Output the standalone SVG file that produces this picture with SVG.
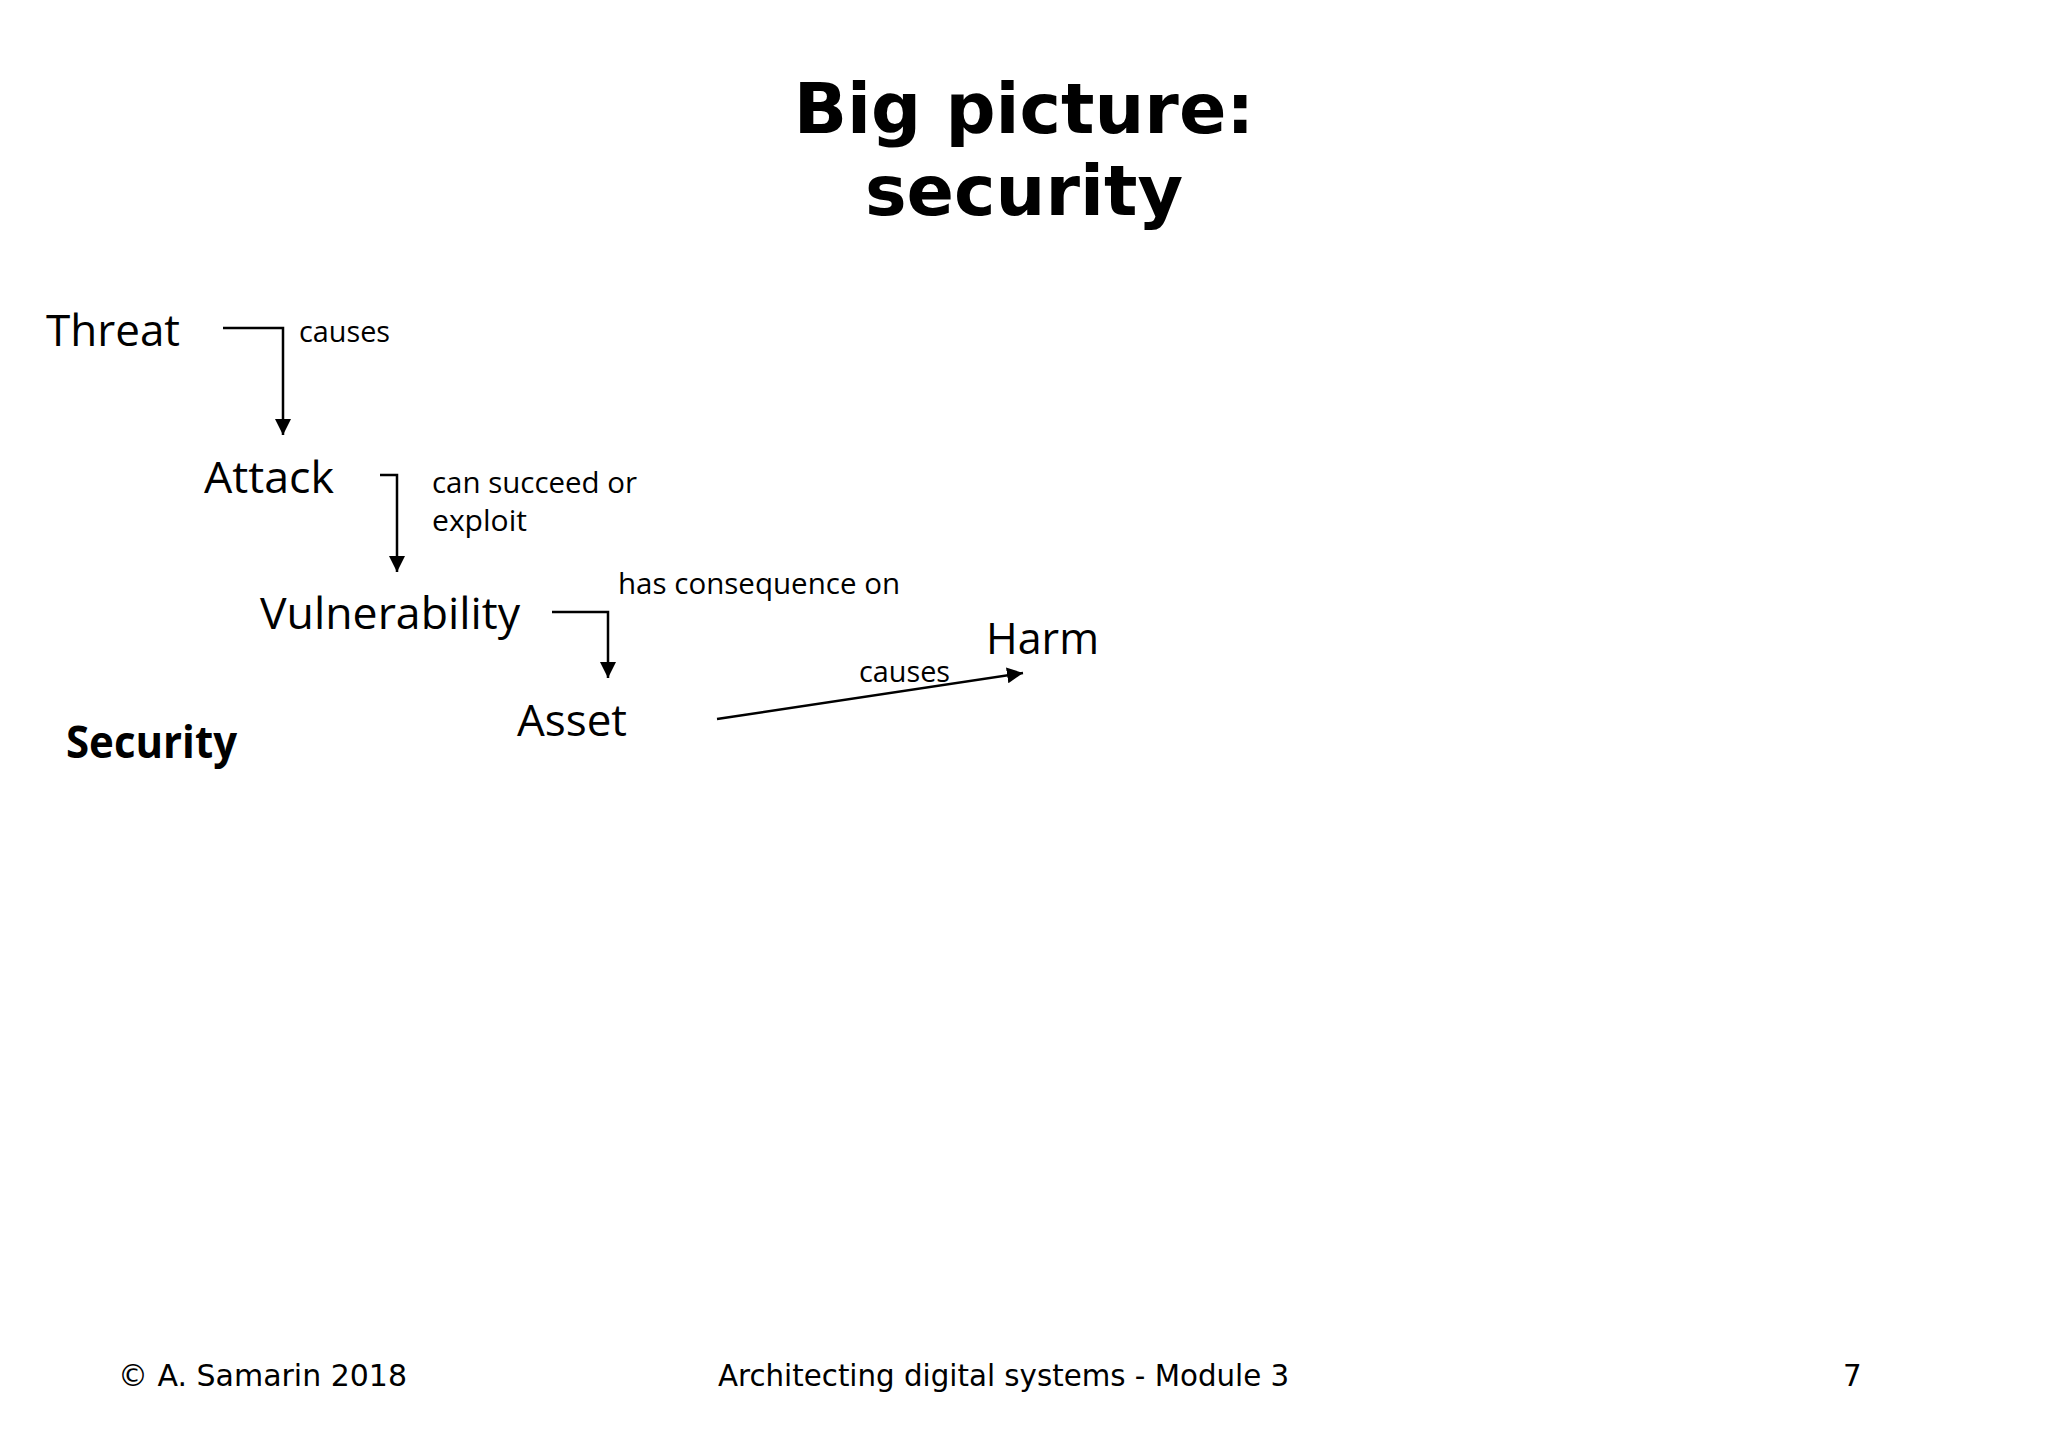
<svg xmlns="http://www.w3.org/2000/svg" width="2048" height="1448" viewBox="0 0 2048 1448">
<style>
.title{font-family:"DejaVu Sans","Verdana",sans-serif;font-weight:bold;font-size:70px;fill:#000;text-anchor:middle}
.node{font-family:"Open Sans","Noto Sans",sans-serif;font-size:44px;fill:#000}
.lbl{font-family:"Open Sans","Noto Sans",sans-serif;font-size:29px;fill:#000}
.bold{font-family:"Open Sans","Noto Sans",sans-serif;font-size:44px;font-weight:bold;fill:#000}
.foot{font-family:"DejaVu Sans","Verdana",sans-serif;font-size:29.3px;fill:#000}
.conn{fill:none;stroke:#000;stroke-width:2.5}
</style>
<defs>
<marker id="arr" markerUnits="userSpaceOnUse" markerWidth="16" markerHeight="16" viewBox="0 0 14 14" refX="14" refY="7" orient="auto">
<path d="M0,0 L14,7 L0,14 z" fill="#000"/>
</marker>
</defs>
<rect width="2048" height="1448" fill="#fff"/>
<g id="title">
<text class="title" x="1024" y="133">Big picture:</text>
<text class="title" x="1024" y="215">security</text>
</g>
<g id="threat"><text class="node" x="46" y="346" textLength="134" lengthAdjust="spacingAndGlyphs">Threat</text></g>
<g id="attack"><text class="node" x="204" y="493" textLength="130" lengthAdjust="spacingAndGlyphs">Attack</text></g>
<g id="vulnerability"><text class="node" x="260" y="629" textLength="260" lengthAdjust="spacingAndGlyphs">Vulnerability</text></g>
<g id="asset"><text class="node" x="517" y="736" textLength="110" lengthAdjust="spacingAndGlyphs">Asset</text></g>
<g id="harm"><text class="node" x="986" y="654" textLength="113" lengthAdjust="spacingAndGlyphs">Harm</text></g>
<g id="security"><text class="bold" x="66" y="758" textLength="171" lengthAdjust="spacingAndGlyphs">Security</text></g>
<g id="connectors">
<polyline class="conn" points="223,328 283,328 283,435" marker-end="url(#arr)"/>
<polyline class="conn" points="380,475 397,475 397,572" marker-end="url(#arr)"/>
<polyline class="conn" points="552,612 608,612 608,678" marker-end="url(#arr)"/>
<line class="conn" x1="717" y1="719" x2="1023" y2="673" marker-end="url(#arr)"/>
<text class="lbl" x="299" y="342" textLength="91" lengthAdjust="spacingAndGlyphs">causes</text>
<text class="lbl" x="432" y="493" textLength="205" lengthAdjust="spacingAndGlyphs">can succeed or</text>
<text class="lbl" x="432" y="531" textLength="95" lengthAdjust="spacingAndGlyphs">exploit</text>
<text class="lbl" x="618" y="594" textLength="282" lengthAdjust="spacingAndGlyphs">has consequence on</text>
<text class="lbl" x="859" y="682" textLength="91" lengthAdjust="spacingAndGlyphs">causes</text>
</g>
<g id="footer">
<text class="foot" x="118" y="1386" textLength="289" lengthAdjust="spacingAndGlyphs">© A. Samarin 2018</text>
<text class="foot" x="718" y="1386">Architecting digital systems - Module 3</text>
<text class="foot" x="1843" y="1386">7</text>
</g>
</svg>
